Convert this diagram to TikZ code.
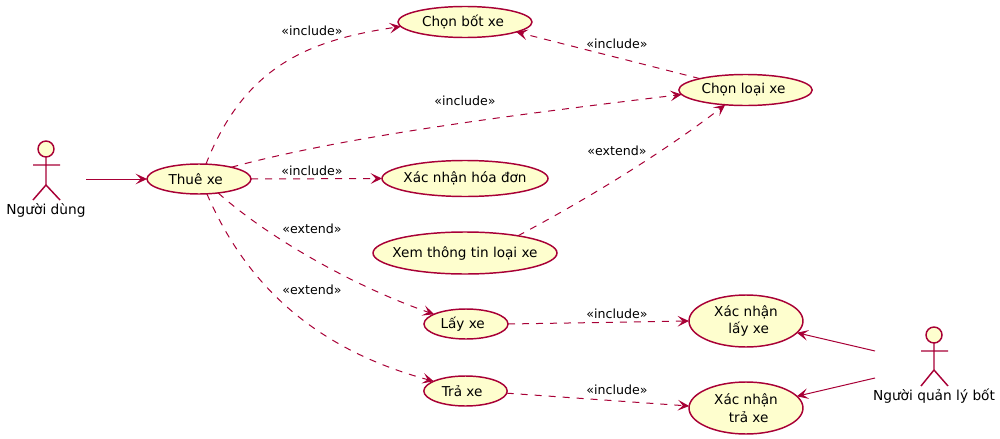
\documentclass[tikz,border=0pt]{standalone}
\usepackage{fontspec}
\setmainfont{DejaVu Sans}
\usetikzlibrary{shapes.geometric,arrows.meta}
\definecolor{umlred}{HTML}{A80036}
\definecolor{umlfill}{HTML}{FEFECE}
\tikzset{
  uc/.style={ellipse,draw=umlred,fill=umlfill,line width=1.1pt,inner sep=0pt,outer sep=0pt},
  uclab/.style={font=\fontsize{10.2pt}{13pt}\selectfont,align=center,inner sep=0pt,text=black},
  elab/.style={font=\fontsize{9.45pt}{12pt}\selectfont,inner sep=0pt,text=black},
  alab/.style={font=\fontsize{10.3pt}{13pt}\selectfont,inner sep=0pt,text=black},
  conn/.style={draw=umlred,line width=0.75pt,-{Stealth[length=8.5pt,width=8pt,inset=3.8pt]}},
  dconn/.style={conn,dash pattern=on 5.25pt off 5.25pt},
  actorline/.style={draw=umlred,line width=1.1pt},
  head/.style={circle,draw=umlred,fill=umlfill,line width=1.1pt,minimum size=12pt,inner sep=0pt,outer sep=0pt}
}
\begin{document}
\begin{tikzpicture}[x=0.75pt,y=-0.75pt]
\useasboundingbox (0,0) rectangle (1000,439);
% use cases
\node[uc,minimum width=78pt,minimum height=22.5pt,label={[uclab,xshift=-2.5pt]center:Thuê xe}] (thue) at (199,179) {};
\node[uc,minimum width=100.5pt,minimum height=23.25pt,label={[uclab,xshift=-1.5pt]center:Chọn bốt xe}] (bot) at (465,22) {};
\node[uc,minimum width=100pt,minimum height=23.25pt,label={[uclab,xshift=-1.5pt]center:Chọn loại xe}] (loai) at (745.5,90) {};
\node[uc,minimum width=124.5pt,minimum height=27pt,label={[uclab]center:Xác nhận hóa đơn}] (hoadon) at (465,178.5) {};
\node[uc,minimum width=138pt,minimum height=31.5pt,label={[uclab]center:Xem thông tin loại xe}] (xem) at (465,253) {};
\node[uc,minimum width=63pt,minimum height=22.5pt,label={[uclab,xshift=-2.5pt]center:Lấy xe}] (lay) at (466,324) {};
\node[uc,minimum width=62.5pt,minimum height=22.5pt,label={[uclab,xshift=-2.5pt]center:Trả xe}] (tra) at (465.5,391) {};
\node[uc,minimum width=85.5pt,minimum height=39pt,label={[uclab]center:Xác nhận\\\hspace*{4pt}lấy xe}] (xnlay) at (746,321) {};
\node[uc,minimum width=85.5pt,minimum height=39pt,label={[uclab]center:Xác nhận\\\hspace*{4pt}trả xe}] (xntra) at (746,408) {};
% actor 1
\node[head] (h1) at (46,149) {};
\draw[actorline] (h1.south) -- (46,185) (33,165) -- (60,165) (33,200) -- (46,185) -- (60,200);
\node[alab] (n1) at (46,210.5) {Người dùng};
\coordinate (a1) at (86,179);
% actor 2
\node[head] (h2) at (934,335) {};
\draw[actorline] (h2.south) -- (934,370) (921,351) -- (948,351) (921,386) -- (934,370) -- (948,386);
\node[alab] (n2) at (934,396.5) {Người quản lý bốt};
\coordinate (a2) at (875,351);
\coordinate (a3) at (875,378);
% connectors
\draw[conn] (a1) -- (thue.west);
\draw[dconn] (thue.65) .. controls (245,65) and (310,40) .. (bot.184);
\draw[dconn] (thue.20) .. controls (350,135) and (530,113) .. (loai.184);
\draw[dconn] (thue.east) -- (hoadon.west);
\draw[dconn] (thue.-36) .. controls (265,235) and (350,285) .. (lay.163.6);
\draw[dconn] (thue.-62) .. controls (240,270) and (300,345) .. (tra.163.4);
\draw[dconn] (loai.166) -- (bot.-11.8);
\draw[dconn] (xem.18.4) .. controls (580,203) and (660,155) .. (loai.-144.6);
\draw[dconn] (lay.east) -- (xnlay.west);
\draw[dconn] (tra.-3) -- (xntra.178);
\draw[conn] (a2) -- (xnlay.-13.5);
\draw[conn] (a3) -- (xntra.13);
% edge labels
\node[elab] (l1) at (312,31) {«include»};
\node[elab] (l2) at (617,44) {«include»};
\node[elab] (l3) at (465,101) {«include»};
\node[elab] (l4) at (617,151) {«extend»};
\node[elab] (l5) at (312,171) {«include»};
\node[elab] (l6) at (312,229) {«extend»};
\node[elab] (l7) at (312,290) {«extend»};
\node[elab] (l8) at (617,314) {«include»};
\node[elab] (l9) at (617,390) {«include»};
\end{tikzpicture}
\end{document}
